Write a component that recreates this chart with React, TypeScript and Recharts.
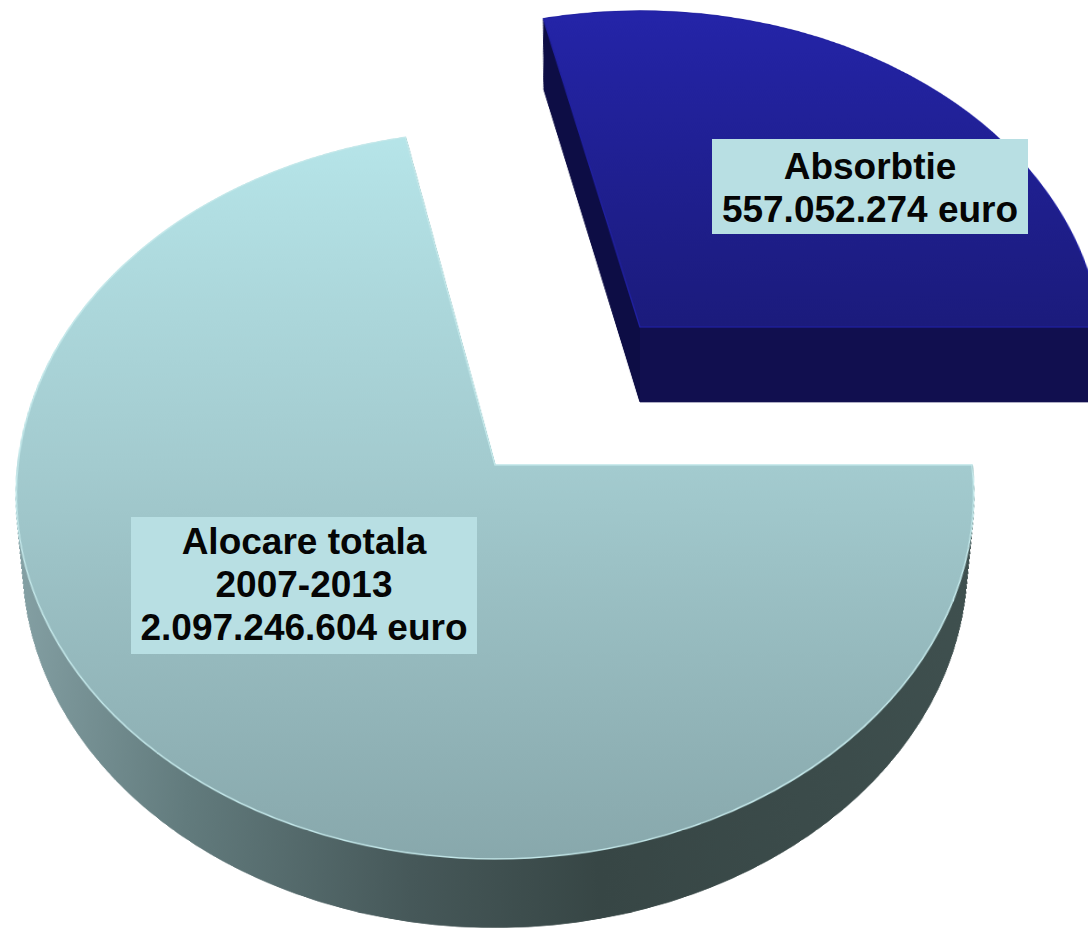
import { Pie, PieChart } from 'recharts'

const allocationSlice = [{ name: 'Alocare totala', value: 2097246604 }]
const absorptionSlice = [{ name: 'Absorbtie', value: 557052274 }]
const allocationLines = ['Alocare totala', '2007-2013', '2.097.246.604 euro']
const absorptionLines = ['Absorbtie', '557.052.274 euro']

const SIZE = 1400
const C = SIZE / 2

// the chart is flat, css tilts it; the pile of offset pies makes the thickness
function depthSteps(depth: number) {
  const steps: number[] = []
  for (let d = depth; d > 0; d -= 1.5) steps.push(d)
  return steps
}

function TiltedSlice({ data, apexX, apexY, radius, start, end, depth, shrink, tilt, top, side, edge, defs, inset = 0 }: any) {
  return (
    <div style={{ position: 'absolute', left: apexX - C - inset, top: apexY - C - inset, width: SIZE + inset, height: SIZE + inset, paddingLeft: inset, paddingTop: inset, boxSizing: 'border-box', transform: `perspective(3800px) rotateX(${tilt}deg)`, transformOrigin: `${C + inset}px ${C + inset}px` }}>
      <PieChart width={SIZE} height={SIZE} margin={{ top: 0, right: 0, bottom: 0, left: 0 }}>
        <defs>{defs}</defs>
        {depthSteps(depth).map((d) => (
          <Pie key={d} data={data} dataKey="value" cx={C} cy={C + d} innerRadius={0} outerRadius={radius - (shrink * d) / depth} startAngle={start} endAngle={end} fill={side} stroke={side} strokeWidth={1} isAnimationActive={false} />
        ))}
        <Pie data={data} dataKey="value" cx={C} cy={C} innerRadius={0} outerRadius={radius} startAngle={start} endAngle={end} fill={top} stroke={edge} strokeWidth={1.5} isAnimationActive={false} />
      </PieChart>
    </div>
  )
}

function Note({ lines, left, top, width, height, pad }: any) {
  return (
    <div style={{ position: 'absolute', left, top, width, height, paddingTop: pad, boxSizing: 'border-box', background: '#b8dfe3', color: '#050505', font: 'bold 37px/43px "Liberation Sans", Arial, sans-serif', textAlign: 'center', whiteSpace: 'nowrap' }}>
      {lines.map((l: string) => (
        <div key={l}>{l}</div>
      ))}
    </div>
  )
}

const bigDefs = (
  <>
    <linearGradient id="bigTop" gradientUnits="userSpaceOnUse" x1="0" y1={C - 478} x2="0" y2={C + 478}>
      <stop offset="0" stopColor="#b6e5e9" />
      <stop offset="0.5" stopColor="#a3cbcf" />
      <stop offset="1" stopColor="#88a8ac" />
    </linearGradient>
    <linearGradient id="bigSide" gradientUnits="userSpaceOnUse" x1={C - 478} y1="0" x2={C + 478} y2="0">
      <stop offset="0" stopColor="#87a3a7" />
      <stop offset="0.2" stopColor="#627b7d" />
      <stop offset="0.42" stopColor="#465859" />
      <stop offset="0.6" stopColor="#374645" />
      <stop offset="1" stopColor="#3f504f" />
    </linearGradient>
  </>
)

const bigProps = {
  data: allocationSlice,
  apexX: 495,
  apexY: 465,
  radius: 477,
  start: 0,
  end: -258.3,
  depth: 89,
  shrink: 14,
  tilt: 40.7,
  top: 'url(#bigTop)',
  side: 'url(#bigSide)',
  edge: '#c4e8ea',
  defs: bigDefs,
}

export default function App() {
  return (
    <div style={{ position: 'absolute', left: 0, top: 0, width: 1088, height: 928, overflow: 'hidden', background: '#fff' }}>
      {/* second copy underneath, its raster tiles fall elsewhere so no specks show */}
      <TiltedSlice {...bigProps} inset={37} />
      <TiltedSlice {...bigProps} />
      <TiltedSlice
        data={absorptionSlice}
        apexX={640}
        apexY={327}
        radius={460}
        start={103.1}
        end={0}
        depth={99}
        shrink={10}
        tilt={42}
        top="url(#smallTop)"
        side="url(#smallSide)"
        edge="#2020a0"
        defs={
          <>
            <linearGradient id="smallTop" gradientUnits="userSpaceOnUse" x1="0" y1={C - 458} x2="0" y2={C}>
              <stop offset="0" stopColor="#2424a8" />
              <stop offset="1" stopColor="#1b1b7c" />
            </linearGradient>
            <linearGradient id="smallSide" gradientUnits="userSpaceOnUse" x1={C - 1} y1="0" x2={C + 1} y2="0">
              <stop offset="0.5" stopColor="#0d0d45" />
              <stop offset="0.5" stopColor="#110f4f" />
            </linearGradient>
          </>
        }
      />
      <Note lines={allocationLines} left={131} top={517} width={346} height={137} pad={3} />
      <Note lines={absorptionLines} left={712} top={139} width={316} height={95} pad={6} />
    </div>
  )
}
